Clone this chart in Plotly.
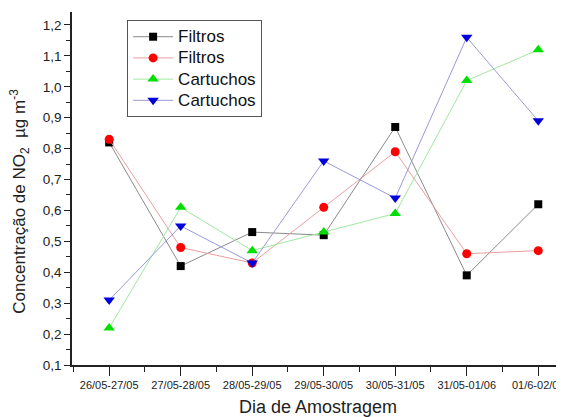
import plotly.graph_objects as go

categories = ["26/05-27/05", "27/05-28/05", "28/05-29/05", "29/05-30/05",
              "30/05-31/05", "31/05-01/06", "01/6-02/06"]
filtros_black = [0.82, 0.42, 0.53, 0.52, 0.87, 0.39, 0.62]
filtros_red = [0.83, 0.48, 0.43, 0.61, 0.79, 0.46, 0.47]
cartuchos_green = [0.22, 0.61, 0.47, 0.53, 0.59, 1.02, 1.12]
cartuchos_blue = [0.31, 0.55, 0.43, 0.76, 0.64, 1.16, 0.89]
y_ticks = [0.1, 0.2, 0.3, 0.4, 0.5, 0.6, 0.7, 0.8, 0.9, 1.0, 1.1, 1.2]

xi = list(range(len(categories)))

series = [
    ("Filtros", filtros_black, "#000000", "#8a8a8a", "square", 8),
    ("Filtros", filtros_red, "#ff0000", "#e8a0a0", "circle", 9),
    ("Cartuchos", cartuchos_green, "#00e000", "#a0e8a0", "triangle-up", 10),
    ("Cartuchos", cartuchos_blue, "#0000dd", "#9a9ad8", "triangle-down", 10),
]

fig = go.Figure()
for name, vals, mc, lc, sym, sz in series:
    fig.add_trace(go.Scatter(
        x=xi, y=vals,
        name="<span style='font-size:17px'>" + name + "</span>",
        mode="lines+markers",
        line=dict(color=lc, width=1),
        marker=dict(color=mc, symbol=sym, size=sz, line=dict(width=0)),
    ))

# the page body adds an 8px margin, so the figure is sized to fill the rest
fig.update_layout(
    width=556, height=409,
    margin=dict(l=64, r=0, t=4, b=52),
    paper_bgcolor="white", plot_bgcolor="white",
    separators=",.",
    font=dict(family="Liberation Sans, Arial", color="#222222"),
    legend=dict(
        x=0.112, y=0.977, xanchor="left", yanchor="top",
        bordercolor="#555555", borderwidth=1, bgcolor="white",
        font=dict(size=14, color="#111111"),
        itemwidth=40,
        tracegroupgap=0,
    ),
    showlegend=True,
)

fig.update_xaxes(
    automargin=False,
    range=[-0.52, 6.36],
    tickmode="array", tickvals=xi, ticktext=categories,
    tickfont=dict(size=11),
    ticklabeloverflow="allow",
    ticks="outside", ticklen=9, tickwidth=1, tickcolor="#222222",
    showline=True, linecolor="#222222", linewidth=1.5,
    showgrid=False, zeroline=False,
    minor=dict(tickmode="array", tickvals=[i + 0.5 for i in range(-1, 7)],
               ticks="outside", ticklen=5, tickcolor="#222222", showgrid=False),
    title=dict(text="Dia de Amostragem", font=dict(size=18), standoff=10),
)

fig.update_yaxes(
    automargin=False,
    range=[0.1, 1.242],
    tickmode="array", tickvals=y_ticks, tickformat=".1f",
    tickfont=dict(size=13.5),
    ticks="outside", ticklen=6, tickwidth=1, tickcolor="#222222",
    showline=True, linecolor="#222222", linewidth=1.5,
    showgrid=False, zeroline=False,
    minor=dict(dtick=0.05, tick0=0.05, ticks="outside", ticklen=4,
               tickcolor="#222222", showgrid=False),
)

fig.add_annotation(
    text="Concentração de NO<sub>2</sub>  µg m<sup>-3</sup>",
    xref="paper", yref="paper", x=-0.106, y=0.465,
    xanchor="center", yanchor="middle", textangle=-90,
    showarrow=False, font=dict(size=17, color="#222222"),
)

fig.write_html("out.html")
